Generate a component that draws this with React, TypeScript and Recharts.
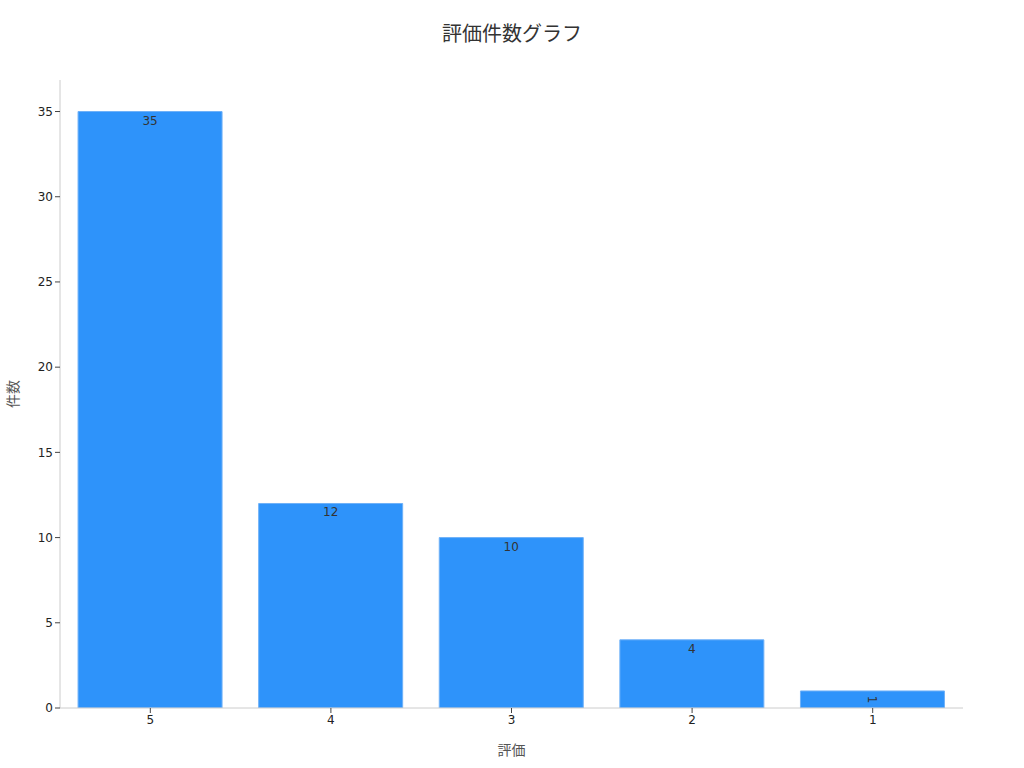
import React from 'react';
import { BarChart, Bar, XAxis, YAxis, LabelList, Label } from 'recharts';

const categories = ['5', '4', '3', '2', '1'];
const counts = [35, 12, 10, 4, 1];
const yTicks = [0, 5, 10, 15, 20, 25, 30, 35];

const data = categories.map((c, i) => ({ rating: c, count: counts[i] }));

const FONT = '"DejaVu Sans", "Noto Sans CJK JP", sans-serif';
const JFONT = '"Noto Sans CJK JP", sans-serif';

const BarValueLabel = (props: any) => {
  const { x, y, width, height, value } = props;
  const cx = x + width / 2;
  if (height < 22) {
    const cy = y + height / 2;
    return (
      <text
        x={cx}
        y={cy}
        transform={`rotate(90 ${cx} ${cy})`}
        textAnchor="middle"
        dominantBaseline="central"
        fontSize={12}
        fill="#333"
        fontFamily={FONT}
      >
        {value}
      </text>
    );
  }
  return (
    <text
      x={cx}
      y={y + 9}
      textAnchor="middle"
      dominantBaseline="central"
      fontSize={12}
      fill="#333"
      fontFamily={FONT}
    >
      {value}
    </text>
  );
};

const YAxisTitle = (props: any) => {
  const vb = props.viewBox || {};
  const cx = 12;
  const cy = (vb.y ?? 80) + (vb.height ?? 628) / 2;
  return (
    <text
      x={cx}
      y={cy}
      transform={`rotate(-90 ${cx} ${cy})`}
      textAnchor="middle"
      dominantBaseline="central"
      fontSize={14}
      fill="#555"
      fontFamily={JFONT}
    >
      件数
    </text>
  );
};

export default function App() {
  return (
    <div style={{ position: 'absolute', left: 0, top: 0, width: 1024, height: 768, background: '#fff' }}>
      <div
        style={{
          position: 'absolute',
          top: 18,
          left: 0,
          width: 1024,
          textAlign: 'center',
          fontFamily: JFONT,
          fontSize: 20,
          color: '#333',
        }}
      >
        評価件数グラフ
      </div>
      <BarChart
        width={1024}
        height={768}
        data={data}
        margin={{ top: 80, right: 61, bottom: 30, left: 0 }}
        barCategoryGap="10%"
      >
        <XAxis
          dataKey="rating"
          stroke="#ccc"
          tickLine={{ stroke: '#444' }}
          tick={{ fill: '#222', fontSize: 12, fontFamily: FONT }}
          tickSize={5}
          height={30}
          label={{ value: '評価', position: 'insideBottom', offset: -17, fill: '#555', fontSize: 14, fontFamily: JFONT }}
        />
        <YAxis
          width={60}
          domain={[0, 36.85]}
          ticks={yTicks}
          stroke="#ccc"
          tickLine={{ stroke: '#444' }}
          tick={{ fill: '#222', fontSize: 12, fontFamily: FONT }}
          tickSize={5}
          allowDataOverflow
        >
          <Label content={<YAxisTitle />} />
        </YAxis>
        <Bar dataKey="count" fill="#2e93fa" stroke="#6fb1f8" strokeWidth={1} isAnimationActive={false}>
          <LabelList dataKey="count" content={<BarValueLabel />} />
        </Bar>
      </BarChart>
    </div>
  );
}
